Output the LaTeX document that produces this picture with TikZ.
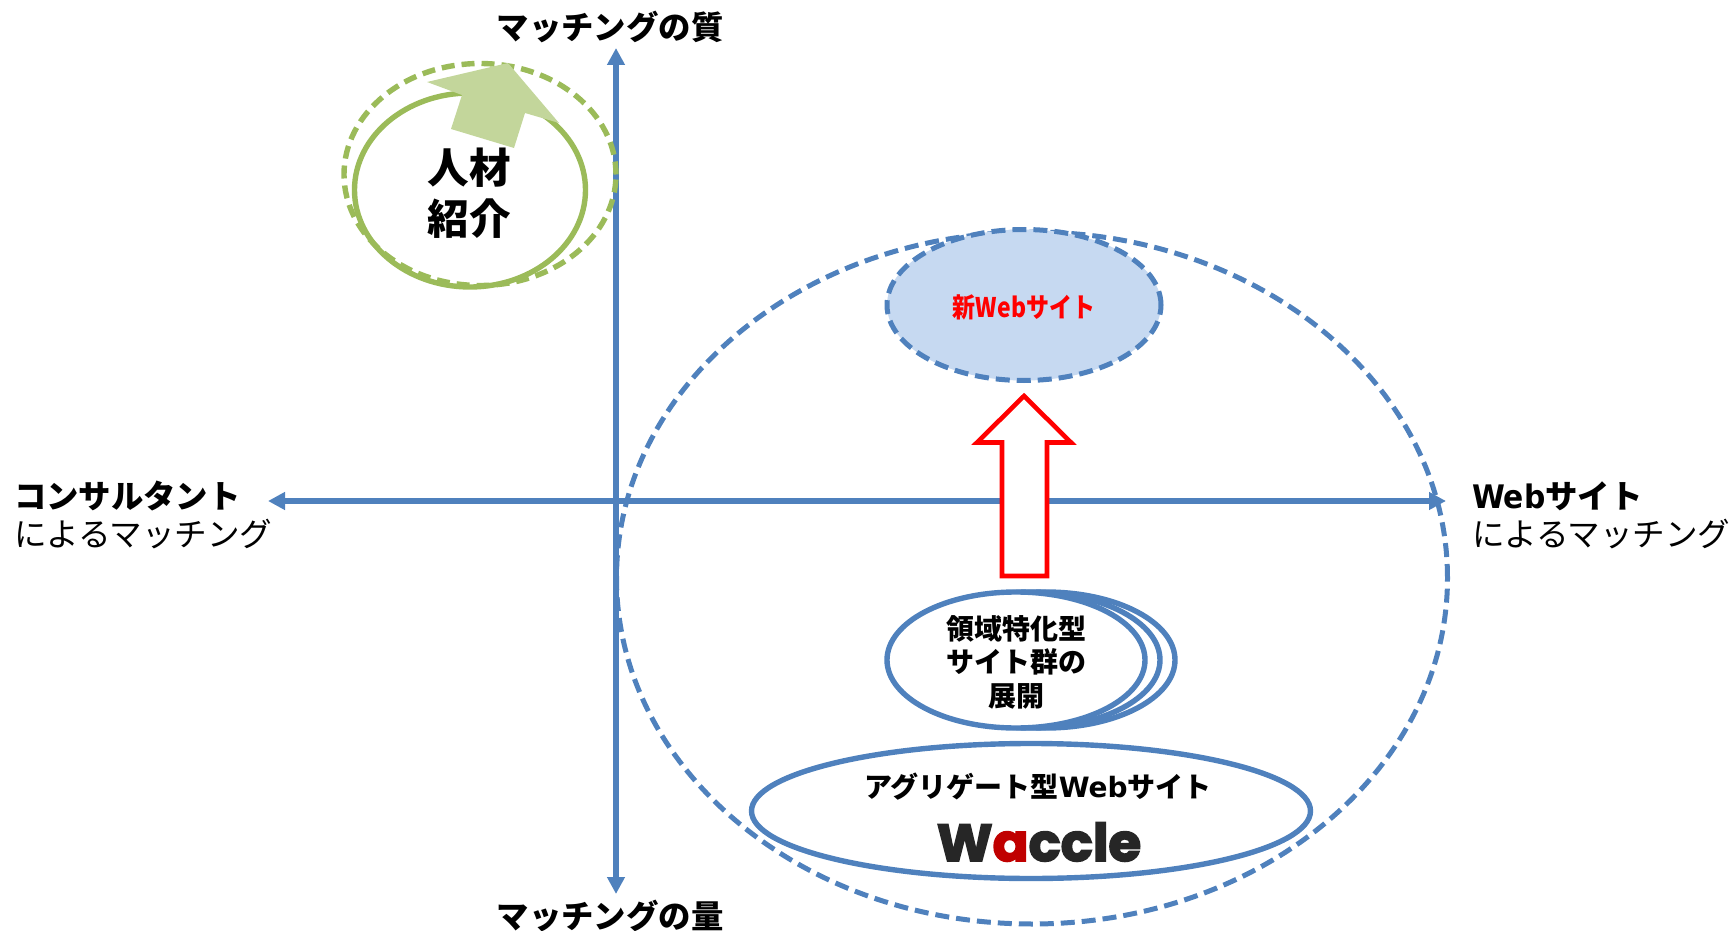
\documentclass[tikz,border=0pt]{standalone}
\usepackage{fontspec}
\usepackage{graphicx}
\usetikzlibrary{arrows.meta,shapes.geometric}
\setmainfont{Noto Sans CJK JP}
\newfontfamily\latinf{DejaVu Sans}
\newfontfamily\logof{Poppins}[FakeBold=3.2,FakeStretch=1.02]
\definecolor{axisblue}{HTML}{4F81BD}
\definecolor{lineblue}{HTML}{4F81BD}
\definecolor{fillblue}{HTML}{C6D9F1}
\definecolor{linegreen}{HTML}{9BBB59}
\definecolor{fillgreen}{HTML}{C3D69B}
\definecolor{logodark}{HTML}{262626}
\definecolor{logored}{HTML}{C00000}
\tikzset{
  x=0.5pt,y=-0.5pt,
  oval/.style={ellipse,inner sep=0pt,outer sep=0pt,minimum width=#1},
  axisline/.style={draw=axisblue,line width=3pt,{Triangle[length=8.5pt,width=8.5pt]}-{Triangle[length=8.5pt,width=8.5pt]}},
  bluedash/.style={draw=lineblue,line width=2.5pt,dash pattern=on 7pt off 3.5pt},
  greendash/.style={draw=linegreen,line width=2.7pt,dash pattern=on 6.5pt off 3.5pt},
  bluesolid/.style={draw=lineblue,line width=2.7pt},
  greensolid/.style={draw=linegreen,line width=2.7pt},
  axislabel/.style={font=\fontsize{16.2}{19}\selectfont,inner sep=0pt,outer sep=0pt},
  sidelabel/.style={axislabel,anchor=west},
  tagtext/.style={font=\fontsize{14}{16.7}\selectfont\bfseries,align=center,inner sep=0pt},
}
\begin{document}
\begin{tikzpicture}
\useasboundingbox (0,0) rectangle (1731,931);
% big dashed ellipse
\node[oval=831pt/2,minimum height=692pt/2,bluedash] (big) at (1032,578) {};
% axes
\coordinate (axT) at (616,48);
\coordinate (axB) at (616,894);
\coordinate (axL) at (268,501);
\coordinate (axR) at (1446,501);
\draw[axisline] (axT) -- (axB);
\draw[axisline] (axL) -- (axR);
% green group
\node[oval=272pt/2,minimum height=222pt/2,greendash] (dashgreen) at (480,174.5) {};
\node[oval=231pt/2,minimum height=194pt/2,greensolid] (solidgreen) at (470,190) {};
\fill[fillgreen] (508,63) -- (559,123) -- (525,113) -- (514,148) -- (451,129) -- (462,95) -- (427,82) -- cycle;
\node[font=\fontsize{20.8}{25.5}\selectfont\bfseries,align=center,inner sep=0pt] (jinzai) at (469,193) {人材\\紹介};
% new web site
\node[oval=274pt/2,minimum height=151pt/2,bluedash,fill=fillblue] (newsite) at (1024,305) {};
\node[inner sep=0pt,text=red,font=\fontsize{13.5}{15}\selectfont\bfseries] (newtext) at (1024,307)
  {\scalebox{0.85}[1]{新Webサイト}};
% red arrow
\draw[draw=red,fill=white,line width=2.3pt,miter limit=10]
  (1024,396) -- (1071,442.5) -- (1047,442.5) -- (1047,576) -- (1002,576) -- (1002,442.5) -- (977,442.5) -- cycle;
% domain sites
\node[oval=258pt/2,minimum height=136pt/2,bluesolid,fill=white] (dom3) at (1046,660) {};
\node[oval=258pt/2,minimum height=136pt/2,bluesolid,fill=white] (dom2) at (1031,660) {};
\node[oval=258pt/2,minimum height=136pt/2,bluesolid,fill=white] (dom1) at (1016,660) {};
\node[tagtext] (domtext) at (1016,662) {領域特化型\\サイト群の\\展開};
% aggregate
\node[oval=559pt/2,minimum height=135pt/2,bluesolid,fill=white] (agg) at (1031,811) {};
\node[tagtext] (aggtext) at (1038,787) {アグリゲート型{\latinf\bfseries Web}サイト};
\node[inner sep=0pt,text=logodark,font=\logof\fontsize{26}{30}\selectfont\bfseries] (logo) at (1039,842) {W\textcolor{logored}{a}ccle};
% labels
\node[axislabel,font=\fontsize{16.2}{19}\selectfont\bfseries] (top) at (610,27) {マッチングの質};
\node[axislabel,font=\fontsize{16.2}{19}\selectfont\bfseries] (bottom) at (610,916) {マッチングの量};
\node[sidelabel,font=\fontsize{16.2}{19}\selectfont\bfseries] (l1) at (14,496) {コンサルタント};
\node[sidelabel,font=\fontsize{16.3}{19}\selectfont] (l2) at (14,534) {によるマッチング};
\node[sidelabel,font=\fontsize{16.2}{19}\selectfont\bfseries] (r1) at (1472,496) {{\latinf\bfseries\scalebox{0.92}[1]{Web}}サイト};
\node[sidelabel,font=\fontsize{16.3}{19}\selectfont] (r2) at (1472,534) {によるマッチング};
\end{tikzpicture}
\end{document}
